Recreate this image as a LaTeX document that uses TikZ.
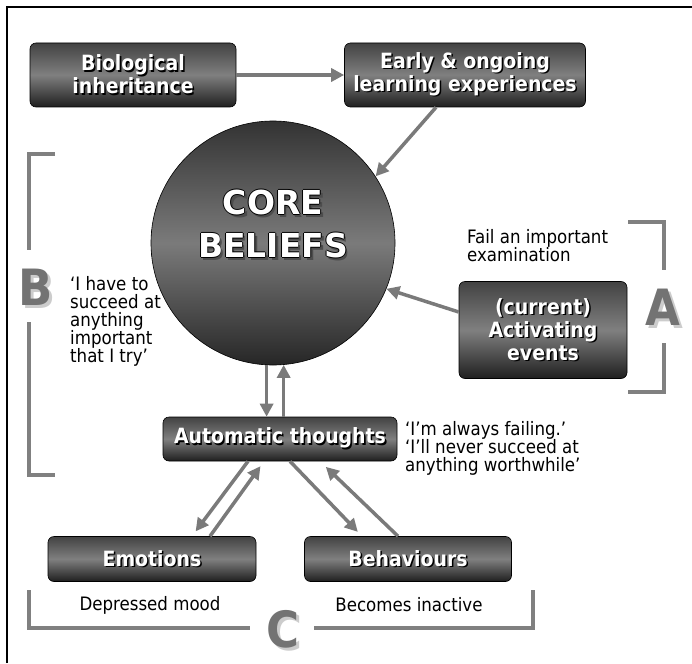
\documentclass[tikz,border=0pt]{standalone}
\usepackage{fontspec}
\setmainfont{DejaVu Sans Condensed}
\newfontfamily\corefont{DejaVu Sans}
\usetikzlibrary{arrows.meta, calc, positioning}
\colorlet{cArrow}{black!52}
\colorlet{cBracket}{black!50}
\colorlet{cLetter}{black!55}
\colorlet{cShade}{black!20}
% white text with a dark drop shadow
\newcommand\shtxt[1]{\leavevmode\rlap{\kern1.5pt\raisebox{-1.5pt}{\color{black}#1}}#1}
% white text with a black rim
\newcommand\rimtxt[1]{\leavevmode%
	\rlap{\kern2.5pt\raisebox{-2.5pt}{\color{black!70}#1}}%
	\rlap{\kern-.9pt\color{black}#1}\rlap{\kern.9pt\color{black}#1}%
	\rlap{\raisebox{.9pt}{\color{black}#1}}\rlap{\raisebox{-.9pt}{\color{black}#1}}#1}
% big grey letter with a soft shadow
\newcommand\lettxt[1]{\leavevmode\rlap{\kern2.5pt\raisebox{-2.5pt}{\color{cShade}#1}}#1}
\tikzset{
	box/.style={
		draw=black,
		line width=.6pt,
		rounded corners=6pt,
		top color=black!74,
		bottom color=black!88,
		middle color=black!50,
		text=white,
		font=\bfseries\fontsize{21}{23}\selectfont,
		align=center,
		inner sep=0pt
	},
	arr/.style={
		draw=cArrow,
		line width=3.5pt,
		-{Triangle[length=13pt,width=13pt]}
	},
	bracket/.style={
		draw=cBracket,
		line width=3.5pt
	},
	note/.style={
		font=\fontsize{18.5}{18}\selectfont,
		align=left,
		inner sep=0pt
	},
	letter/.style={
		font=\bfseries\fontsize{50}{50}\selectfont,
		text=cLetter,
		inner sep=0pt
	}
}
\begin{document}
\begin{tikzpicture}[x=1pt, y=-1pt]
	\useasboundingbox (0,0) rectangle (692,663);
	\draw[line width=2pt] (7,663) -- (7,7) -- (692,7);

	% boxes
	\node[box, minimum width=206pt, minimum height=64pt] (bio) at (133,75)
		{\shtxt{Biological}\\\shtxt{inheritance}};
	\node[box, minimum width=241pt, minimum height=64pt] (early) at (465,75)
		{\shtxt{Early \& ongoing}\\\shtxt{learning experiences}};
	\node[box, minimum width=168pt, minimum height=97pt] (act) at (543,330)
		{\shtxt{(current)}\\\shtxt{Activating}\\\shtxt{events}};
	\node[box, minimum width=234pt, minimum height=44pt] (auto) at (280,439)
		{\shtxt{Automatic thoughts}};
	\node[box, minimum width=208pt, minimum height=45pt] (emo) at (152,559)
		{\shtxt{Emotions}};
	\node[box, minimum width=207pt, minimum height=45pt] (beh) at (408,559)
		{\shtxt{Behaviours}};

	% core beliefs
	\node[circle, draw=black, line width=.6pt, minimum size=244pt, inner sep=0pt,
		top color=black!80, bottom color=black!85, middle color=black!52] (core) at (273,243) {};
	\node[text=white, font=\corefont\bfseries\fontsize{33}{43}\selectfont, align=center] (coretxt) at (273,225)
		{\rimtxt{CORE}\\\rimtxt{BELIEFS}};

	% notes
	\node[note, anchor=north west] (failtxt) at (467,229) {Fail an important\\examination};
	\node[note, anchor=north west] (btxt) at (70,276) {‘I have to\\succeed at\\anything\\important\\that I try’};
	\node[note, anchor=north west] (atxt) at (405,421) {‘I’m always failing.’\\‘I’ll never succeed at\\anything worthwhile’};
	\node[note] (emotxt) at (150,605) {Depressed mood};
	\node[note] (behtxt) at (409,605) {Becomes inactive};

	% arrows
	\draw[arr] (bio.east) -- (early.west);
	\draw[arr] ($(early.south)+(-29,0)$) -- (core.33);
	\draw[arr] ($(act.west)+(0,-18)$) -- (core.-22);
	\draw[arr] (core.-93) -- (core.-93 |- auto.north);
	\draw[arr] (core.-85 |- auto.north) -- (core.-85);
	\draw[arr, shorten >=6pt] ($(auto.south)+(-32,0)$) -- ($(emo.north)+(40,0)$);
	\draw[arr, shorten >=6pt] ($(emo.north)+(58,0)$) -- ($(auto.south)+(-16,0)$);
	\draw[arr, shorten >=6pt] ($(auto.south)+(10,0)$) -- ($(beh.north)+(-46,0)$);
	\draw[arr, shorten >=8pt] ($(beh.north)+(-10,0)$) -- ($(auto.south)+(40,0)$);

	% brackets
	\draw[bracket] (628,222) -- (664,222) -- (664,270);
	\draw[bracket] (664,343) -- (664,392) -- (628,392);
	\node[letter] (aletter) at (663,309) {\lettxt{A}};
	\draw[bracket] (55,154) -- (29,154) -- (29,250);
	\draw[bracket] (29,322) -- (29,475) -- (55,475);
	\node[letter] (bletter) at (36,289) {\lettxt{B}};
	\draw[bracket] (29,590) -- (29,628) -- (250,628);
	\draw[bracket] (314,628) -- (533,628) -- (533,590);
	\node[letter] (cletter) at (283,631) {\lettxt{C}};
\end{tikzpicture}
\end{document}
